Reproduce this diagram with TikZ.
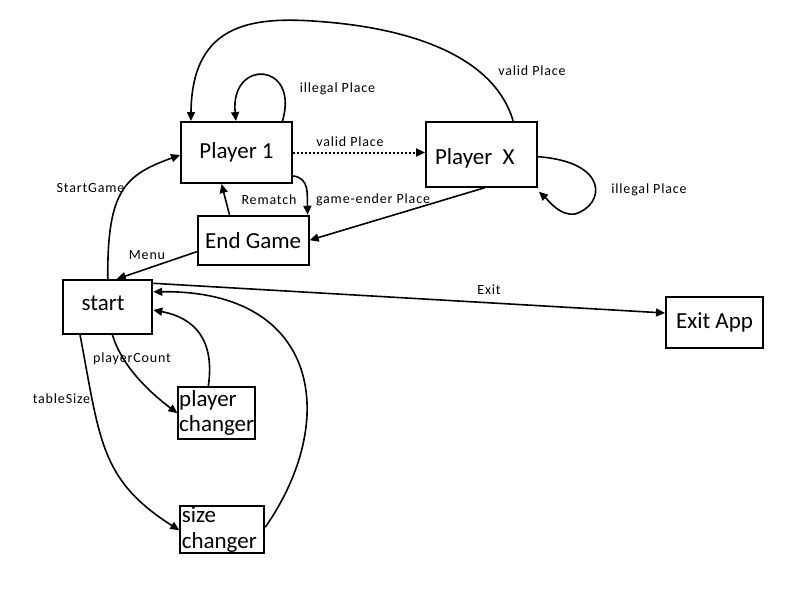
\documentclass[tikz,border=0pt]{standalone}
\usepackage{fontspec}
\setmainfont{Carlito}
\newfontfamily\lblfont{Carlito}[LetterSpace=6]
\usetikzlibrary{arrows.meta,calc}
\begin{document}
\begin{tikzpicture}[x=1pt,y=-1pt,
  box/.style={draw, line width=1.9pt, inner sep=0pt, font=\fontsize{23}{25}\selectfont},
  conn/.style={line width=1.6pt, -{Triangle[length=9pt,width=8pt]}},
  lbl/.style={font=\lblfont\fontsize{14}{16}\selectfont, inner sep=0pt}]
\fill[white] (0,0) rectangle (800,600);
\useasboundingbox (0,0) rectangle (800,600);

% states
\node[box, minimum width=111pt, minimum height=61pt] (p1) at (236.5,152.5) {Player 1};
\node[box, minimum width=111pt, minimum height=65pt, text width=93pt, inner xsep=9pt, align=left, text height=20pt, text depth=0pt] (px) at (481.5,154.2) {Player \kern2.5pt X};
\node[box, minimum width=111pt, minimum height=49pt] (eg) at (253.2,240.2) {End Game};
\node[box, minimum width=89pt, minimum height=53.7pt, text width=52.2pt, inner xsep=18.4pt, align=left, text depth=7pt] (st) at (107.8,306.8) {start};
\node[box, minimum width=76.7pt, minimum height=51.7pt, text width=75pt, inner xsep=0.85pt, align=left, font=\fontsize{23}{25}\selectfont] (pc) at (216.7,413.2) {player\\changer};
\node[box, minimum width=84pt, minimum height=47pt, text width=81pt, inner xsep=1.5pt, align=left, font=\fontsize{23}{26}\selectfont] (sc) at (222.3,529.2) {size\\changer};
\node[box, minimum width=97pt, minimum height=51pt] (ex) at (714.5,322.5) {Exit App};

% connectors
\draw[conn] ($(px.north west)!0.78!(px.north east)$) .. controls (495,60) and (420,30) .. (326,22) .. controls (256,16) and (192,20) .. ($(p1.north west)!0.096!(p1.north east)$);
\draw[conn] ($(p1.north west)!0.907!(p1.north east)$) .. controls (300,62) and (230,58) .. ($(p1.north west)!0.495!(p1.north east)$);
\draw[conn, line width=2pt, dash pattern=on 2pt off 2pt] (p1.east) -- (p1.east -| px.west);
\draw[conn] ($(p1.south east)+(0,-8)$) .. controls (310,178) and (307,195) .. ($(eg.north east)+(-2,0)$);
\draw[conn] ($(eg.north west)!0.29!(eg.north east)$) -- ($(p1.south west)!0.367!(p1.south east)$);
\draw[conn] ($(px.south west)!0.53!(px.south east)$) -- (eg.east);
\draw[conn] ($(px.east)+(0,2.5)$) .. controls (610,162) and (605,205) .. (575,214) .. controls (560,216) and (550,202) .. ($(px.south east)+(1,4)$);
\draw[conn] ($(eg.west)+(0,11.5)$) -- ($(st.north)+(9,0)$);
\draw[conn] (st.north) .. controls (107,190) and (125,175) .. ($(p1.west)+(0,2.5)$);
\draw[conn] ($(st.south)+(4.5,0)$) .. controls (120,360) and (140,385) .. (pc.west);
\draw[conn] ($(st.south)+(-27.8,0)$) .. controls (100,440) and (100,480) .. ($(sc.west)+(0,1)$);
\draw[conn] ($(pc.north)+(-8.4,0)$) .. controls (215,340) and (195,318) .. ($(st.east)+(0,3.2)$);
\draw[conn] ($(sc.east)+(0,-2)$) .. controls (340,420) and (320,290) .. ($(st.east)+(0,-15)$);
\draw[conn] ($(st.east)+(0,-23.5)$) -- ($(ex.west)+(0,-9.5)$);

% labels
\node[lbl] (l1) at (532,71) {valid Place};
\node[lbl] (l2) at (337.5,89) {illegal Place};
\node[lbl] (l3) at (350,141.5) {valid Place};
\node[lbl] (l4) at (373,200) {game-ender Place};
\node[lbl] (l5) at (269,200) {Rematch};
\node[lbl] (l6) at (649,190) {illegal Place};
\node[lbl] (l7) at (147,255) {Menu};
\node[lbl] (l8) at (90.5,187.7) {StartGame};
\node[lbl] (l9) at (132,359) {playerCount};
\node[lbl] (l10) at (61.5,399) {tableSize};
\node[lbl] (l11) at (489,290) {Exit};
\end{tikzpicture}
\end{document}
